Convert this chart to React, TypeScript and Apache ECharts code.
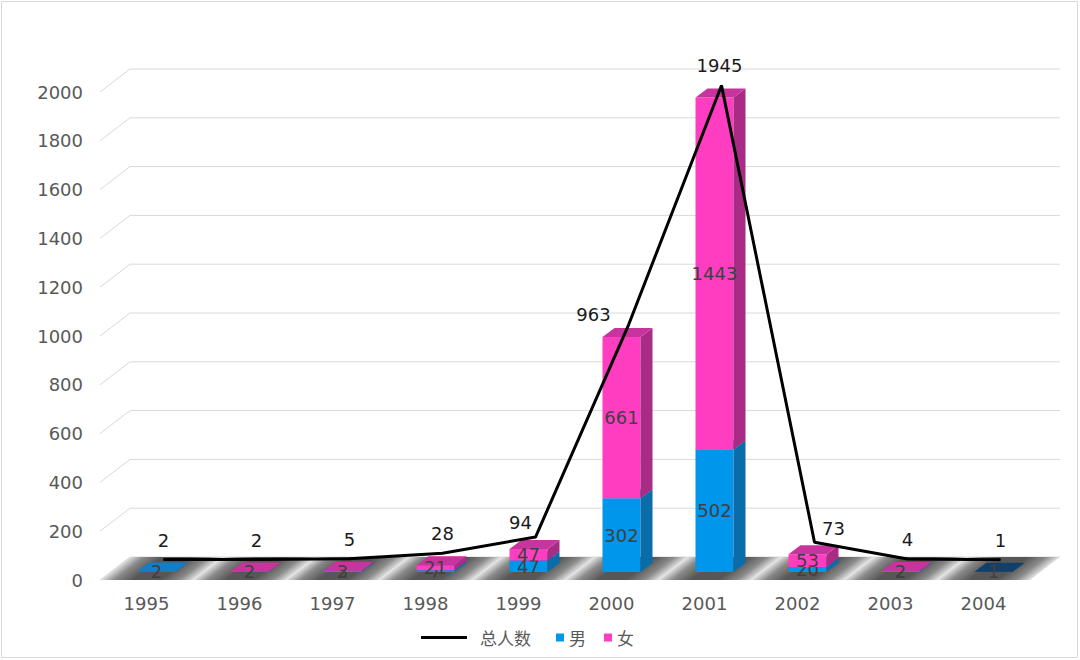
import React, { useEffect, useRef } from "react";
import * as echarts from "echarts";

const years = ["1995", "1996", "1997", "1998", "1999", "2000", "2001", "2002", "2003", "2004"];
const male = [2, 0, 2, 7, 47, 302, 502, 20, 2, 1];
const female = [0, 2, 3, 21, 47, 661, 1443, 53, 2, 0];
const total = [2, 2, 5, 28, 94, 963, 1945, 73, 4, 1];
const yTicks = [0, 200, 400, 600, 800, 1000, 1200, 1400, 1600, 1800, 2000];

// styling constants
const FONT = "'DejaVu Sans', sans-serif";
const DEPTH_X = 30;
const DEPTH_Y = -23;
const BAR_W = 38;
const BAR_FX = 10;
const BAR_FY = -8;
const BAR_DX = 12;
const BAR_DY = -9;
const maleColors = { front: "#0096EC", side: "#0A6CA9", top: "#0F7FC9" };
const navyColors = { front: "#0F3D63", side: "#0A2C49", top: "#11406A" };
const femaleColors = { front: "#FF3DC1", side: "#A92C84", top: "#C8349E" };
const lineLabelShift: Record<number, number[]> = { 4: [-15, 5], 5: [-35, 9], 6: [-2, 0], 7: [19, 6] };

function barRenderer(getColors: (i: number) => { front: string; side: string; top: string }) {
  return (params: any, api: any) => {
    const i = api.value(0);
    const v0 = api.value(1);
    const v1 = api.value(2);
    if (v1 - v0 <= 0) return { type: "group", children: [] };
    const c = getColors(i);
    const pb = api.coord([i, v0]);
    const pt = api.coord([i, v1]);
    const cx = pb[0] + BAR_FX;
    const xl = cx - BAR_W / 2;
    const xr = cx + BAR_W / 2;
    const yb = pb[1] + BAR_FY;
    const yt = pt[1] + BAR_FY;
    return {
      type: "group",
      children: [
        { type: "rect", shape: { x: xl, y: yt, width: BAR_W, height: yb - yt }, style: { fill: c.front } },
        {
          type: "polygon",
          shape: { points: [[xr, yb], [xr + BAR_DX, yb + BAR_DY], [xr + BAR_DX, yt + BAR_DY], [xr, yt]] },
          style: { fill: c.side },
        },
        {
          type: "polygon",
          shape: { points: [[xl, yt], [xl + BAR_DX, yt + BAR_DY], [xr + BAR_DX, yt + BAR_DY], [xr, yt]] },
          style: { fill: c.top },
        },
        {
          type: "text",
          x: cx,
          y: (yt + yb) / 2,
          style: {
            text: String(v1 - v0),
            fill: "#404040",
            fontSize: 18,
            fontFamily: FONT,
            align: "center",
            verticalAlign: "middle",
          },
        },
      ],
    };
  };
}

export default function App() {
  const ref = useRef<HTMLDivElement>(null);
  useEffect(() => {
    if (!ref.current) return;
    const chart = echarts.init(ref.current, null, { renderer: "svg" });
    const gridLeft = 100;
    const gridTop = 92;
    const gridW = 930;
    const gridH = 488;
    chart.setOption({
      animation: false,
      backgroundColor: "#ffffff",
      graphic: [
        {
          type: "rect",
          shape: { x: 1.5, y: 1.5, width: 1076, height: 656 },
          style: { fill: "none", stroke: "#d9d9d9", lineWidth: 1 },
          z: -1,
        },
      ],
      legend: [
        {
          data: [{ name: "总人数", icon: "rect" }],
          left: 416,
          top: 624,
          itemWidth: 46,
          itemHeight: 3,
          textStyle: { fontSize: 17, color: "#595959", fontFamily: "'Noto Sans CJK SC', sans-serif", padding: [0, 0, 0, 8] },
        },
        {
          data: [
            { name: "男", icon: "rect" },
            { name: "女", icon: "rect" },
          ],
          left: 551,
          top: 624,
          itemWidth: 8,
          itemHeight: 8,
          itemGap: 18,
          textStyle: { fontSize: 17, color: "#595959", fontFamily: "'Noto Sans CJK SC', sans-serif" },
        },
      ],
      grid: [
        { left: gridLeft, top: gridTop, width: gridW, height: gridH },
        { left: gridLeft + 17, top: gridTop - 20, width: gridW, height: gridH },
      ],
      xAxis: [
        {
          type: "category",
          data: years,
          gridIndex: 0,
          axisLine: { show: false },
          axisTick: { show: false },
          axisLabel: { color: "#595959", fontSize: 18, fontFamily: FONT, margin: 14 },
        },
        { type: "category", data: years, gridIndex: 1, show: false },
      ],
      yAxis: [
        {
          type: "value",
          gridIndex: 0,
          min: 0,
          max: 2000,
          interval: 200,
          axisLine: { show: false },
          axisTick: { show: false },
          splitLine: { show: false },
          axisLabel: {
            color: "#595959",
            fontSize: 18,
            fontFamily: FONT,
            margin: 17,
            verticalAlign: "middle",
            formatter: (v: number) => String(v),
          },
        },
        { type: "value", gridIndex: 1, min: 0, max: 2000, interval: 200, show: false, splitLine: { show: false } },
      ],
      series: [
        {
          type: "custom",
          name: "gridlines",
          xAxisIndex: 0,
          yAxisIndex: 0,
          z: 1,
          silent: true,
          data: yTicks.map((v) => [0, v]),
          encode: { x: 0, y: 1 },
          renderItem: (params: any, api: any) => {
            const p = api.coord([0, api.value(1)]);
            const cs = params.coordSys;
            return {
              type: "polyline",
              shape: {
                points: [
                  [cs.x, p[1]],
                  [cs.x + DEPTH_X, p[1] + DEPTH_Y],
                  [cs.x + cs.width + DEPTH_X, p[1] + DEPTH_Y],
                ],
              },
              style: { stroke: "#d9d9d9", lineWidth: 1, fill: "none" },
            };
          },
        },
        {
          type: "custom",
          name: "floor",
          xAxisIndex: 0,
          yAxisIndex: 0,
          z: 2,
          silent: true,
          data: years.map((_, i) => [i, 0]),
          encode: { x: 0, y: 1 },
          renderItem: (params: any, api: any) => {
            const i = api.value(0);
            const c = api.coord([i, 0]);
            const bw = api.size([1, 0])[0];
            const xl = c[0] - bw / 2;
            const y0 = c[1];
            const grad = new echarts.graphic.LinearGradient(
              xl,
              y0,
              xl + 34.4,
              y0 + 44.9,
              [
                { offset: 0, color: "#e2e2e2" },
                { offset: 0.15, color: "#8a8a8a" },
                { offset: 0.35, color: "#575757" },
                { offset: 0.65, color: "#575757" },
                { offset: 0.85, color: "#8a8a8a" },
                { offset: 1, color: "#e2e2e2" },
              ],
              true
            );
            return {
              type: "polygon",
              shape: {
                points: [
                  [xl, y0],
                  [xl + bw, y0],
                  [xl + bw + DEPTH_X, y0 + DEPTH_Y],
                  [xl + DEPTH_X, y0 + DEPTH_Y],
                ],
              },
              style: { fill: grad },
            };
          },
        },
        {
          type: "custom",
          name: "男",
          xAxisIndex: 0,
          yAxisIndex: 0,
          z: 3,
          itemStyle: { color: maleColors.front },
          data: male.map((v, i) => [i, 0, v]),
          encode: { x: 0, y: [1, 2] },
          renderItem: barRenderer((i) => (i === 9 ? navyColors : maleColors)),
        },
        {
          type: "custom",
          name: "女",
          xAxisIndex: 0,
          yAxisIndex: 0,
          z: 4,
          itemStyle: { color: femaleColors.front },
          data: female.map((v, i) => [i, male[i], male[i] + v]),
          encode: { x: 0, y: [1, 2] },
          renderItem: barRenderer(() => femaleColors),
        },
        {
          type: "line",
          name: "总人数",
          xAxisIndex: 1,
          yAxisIndex: 1,
          z: 5,
          symbol: "circle",
          symbolSize: 1,
          showSymbol: true,
          lineStyle: { color: "#000000", width: 3 },
          itemStyle: { color: "#000000" },
          labelLayout: (p: any) => {
            const s = lineLabelShift[p.dataIndex];
            return s ? { dx: s[0], dy: s[1], hideOverlap: false } : { hideOverlap: false };
          },
          label: {
            show: true,
            position: "top",
            distance: 10,
            fontSize: 18,
            color: "#1a1a1a",
            fontFamily: FONT,
          },
          data: total,
        },
      ],
    });
    return () => chart.dispose();
  }, []);
  return <div ref={ref} style={{ position: "absolute", left: 0, top: 0, width: 1080, height: 660 }} />;
}
